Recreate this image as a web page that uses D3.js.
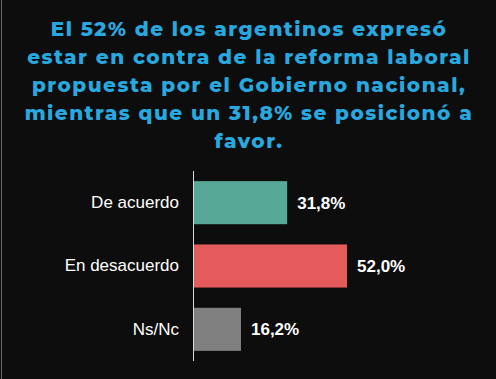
<!DOCTYPE html>
<html>
<head>
<meta charset="utf-8">
<script src="https://cdn.jsdelivr.net/npm/d3@7"></script>
<style>
  body { margin: 0; background: #0d0d0d; }
  svg { display: block; }
</style>
</head>
<body>
<div id="chart"></div>
<script>
const categories = ["De acuerdo", "En desacuerdo", "Ns/Nc"];
const values = [31.8, 52.0, 16.2];
const valueLabels = ["31,8%", "52,0%", "16,2%"];
const barColors = ["#57a897", "#e55b5b", "#808080"];
const titleLines = [
  "El 52% de los argentinos expresó",
  "estar en contra de la reforma laboral",
  "propuesta por el Gobierno nacional,",
  "mientras que un 31,8% se posicionó a",
  "favor."
];

const width = 496, height = 379;

const svg = d3.select("#chart").append("svg")
  .attr("width", width)
  .attr("height", height);

svg.append("rect")
  .attr("width", width)
  .attr("height", height)
  .attr("fill", "#0d0d0d");

// faint left edge
svg.append("line")
  .attr("x1", 1.5).attr("x2", 1.5)
  .attr("y1", 0).attr("y2", height)
  .attr("stroke", "#6a6a6a")
  .attr("stroke-width", 1);

// title
const title = svg.append("text")
  .attr("text-anchor", "middle")
  .attr("fill", "#29a8df")
  .style("font-family", "Montserrat, 'Open Sans', sans-serif")
  .style("font-weight", "800")
  .style("font-size", "20px")
  .style("letter-spacing", "1.5px");

title.selectAll("tspan")
  .data(titleLines)
  .enter()
  .append("tspan")
  .attr("x", 249)
  .attr("y", (d, i) => 36 + i * 28)
  .text(d => d);

// bars
const xScale = d3.scaleLinear()
  .domain([0, 52])
  .range([193, 347]);

const yScale = d3.scaleBand()
  .domain(categories)
  .range([171, 361])
  .paddingInner(0.32)
  .paddingOuter(0.16);

svg.selectAll(".bar")
  .data(values)
  .enter()
  .append("rect")
  .attr("class", "bar")
  .attr("x", xScale(0))
  .attr("y", (d, i) => yScale(categories[i]))
  .attr("width", d => xScale(d) - xScale(0))
  .attr("height", yScale.bandwidth())
  .attr("fill", (d, i) => barColors[i]);

// axis line + category labels
const axis = svg.append("g")
  .attr("transform", `translate(${xScale(0)},0)`)
  .call(d3.axisLeft(yScale).tickSize(0).tickPadding(14));

axis.select(".domain")
  .attr("d", `M0.5,171V361`)
  .attr("stroke", "#d8d8d8");

axis.selectAll(".tick text")
  .attr("fill", "#ffffff")
  .style("font-family", "Arial, 'Liberation Sans', sans-serif")
  .style("font-size", "17px");

// value labels
svg.selectAll(".val")
  .data(values)
  .enter()
  .append("text")
  .attr("class", "val")
  .attr("x", d => xScale(d) + 10)
  .attr("y", (d, i) => yScale(categories[i]) + yScale.bandwidth() / 2)
  .attr("dy", "0.35em")
  .attr("fill", "#ffffff")
  .style("font-family", "Arial, 'Liberation Sans', sans-serif")
  .style("font-weight", "bold")
  .style("font-size", "17px")
  .text((d, i) => valueLabels[i]);
</script>
</body>
</html>
